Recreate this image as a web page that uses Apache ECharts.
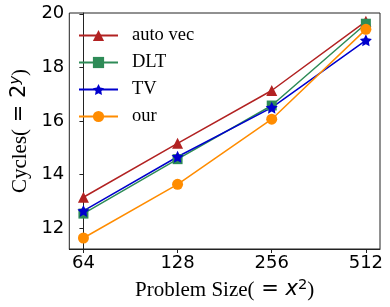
<!DOCTYPE html>
<html>
<head>
<meta charset="utf-8">
<script src="https://cdn.jsdelivr.net/npm/echarts@6/dist/echarts.min.js"></script>
<style>html,body{margin:0;padding:0;background:#fff}#c{width:390px;height:307px}</style>
</head>
<body>
<div id="c"></div>
<script>
var categories = ['64', '128', '256', '512'];
var autoVec = [13.16, 15.17, 17.14, 19.72];
var dlt = [12.55, 14.58, 16.58, 19.63];
var tv = [12.65, 14.67, 16.50, 19.01];
var our = [11.64, 13.64, 16.07, 19.42];
var yTicks = [12, 14, 16, 18, 20];
var seriesNames = ['auto vec', 'DLT', 'TV', 'our'];

var star = 'path://M0,-10 L2.94,-4.05 9.51,-3.09 4.76,1.55 5.88,8.09 0,5 -5.88,8.09 -4.76,1.55 -9.51,-3.09 -2.94,-4.05 Z';

function pts(arr) { return arr.map(function (v, i) { return [i, v]; }); }

var chart = echarts.init(document.getElementById('c'), null, {renderer: 'canvas'});
var mk = function (name, data, color, symbol, size) {
  return {
    name: name, type: 'line', data: pts(data),
    symbol: symbol, symbolSize: size, showSymbol: true,
    lineStyle: {color: color, width: 1.5},
    itemStyle: {color: color},
    emphasis: {disabled: true}, animation: false
  };
};
var richName = {
  t: {fontFamily: 'Liberation Serif', fontSize: 21, color: '#000'},
  m: {fontFamily: 'DejaVu Sans', fontSize: 21, color: '#000'},
  i: {fontFamily: 'DejaVu Sans', fontStyle: 'italic', fontSize: 21, color: '#000'},
  s: {fontFamily: 'DejaVu Sans', fontSize: 14.7, color: '#000', verticalAlign: 'top', padding: [0, 0, 9, 0]},
  si: {fontFamily: 'DejaVu Sans', fontStyle: 'italic', fontSize: 14.7, color: '#000', verticalAlign: 'top', padding: [0, 0, 9, 0]}
};
chart.setOption({
  animation: false,
  grid: {left: 62, right: 10, top: 13, bottom: 58, show: true, borderColor: '#222', borderWidth: 1},
  legend: {
    orient: 'vertical', left: 78, top: 26, padding: 0, itemWidth: 39, itemHeight: 14, itemGap: 8,
    data: seriesNames,
    textStyle: {fontFamily: 'Liberation Serif', fontSize: 18.5, color: '#000', padding: [0, 0, 0, 9]}
  },
  xAxis: {
    type: 'value', min: -0.15, max: 3.15,
    axisLine: {show: true, lineStyle: {color: '#222'}},
    axisTick: {show: true, length: 4, customValues: [0, 1, 2, 3], lineStyle: {color: '#222'}},
    axisLabel: {customValues: [0, 1, 2, 3], formatter: function (v) { return categories[Math.round(v)]; },
      fontFamily: 'DejaVu Sans', fontSize: 18, color: '#000', margin: 5},
    splitLine: {show: false},
    name: '{t|Problem Size(}{m| = }{i|x}{s|2}{t|)}', nameLocation: 'middle', nameGap: 29,
    nameTextStyle: {fontSize: 21, rich: richName}
  },
  yAxis: {
    type: 'value', min: 11.23, max: 20.03,
    axisLine: {show: true, lineStyle: {color: '#222'}},
    axisTick: {show: true, length: 4, customValues: yTicks, lineStyle: {color: '#222'}},
    axisLabel: {customValues: yTicks, fontFamily: 'DejaVu Sans', fontSize: 18, color: '#000', margin: 5},
    splitLine: {show: false},
    name: '{t|Cycles(}{m| = 2}{si|y}{t|)}', nameLocation: 'middle', nameGap: 36,
    nameTextStyle: {fontSize: 21, rich: richName}
  },
  series: [
    mk('auto vec', autoVec, '#b22222', 'triangle', 11),
    mk('DLT', dlt, '#2e8b57', 'rect', 10),
    mk('TV', tv, '#0000cd', star, 12),
    mk('our', our, '#ff8c00', 'circle', 11)
  ]
});
</script>
</body>
</html>
